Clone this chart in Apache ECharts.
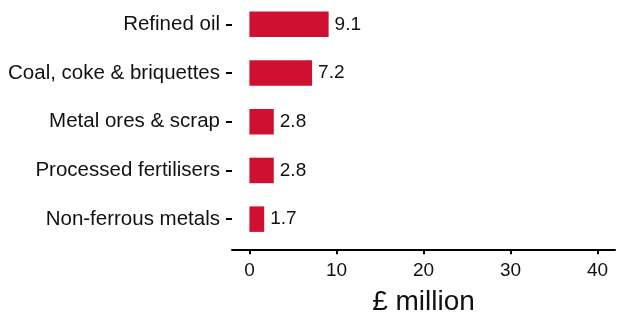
<!DOCTYPE html>
<html>
<head>
<meta charset="utf-8">
<script src="https://cdn.jsdelivr.net/npm/echarts@6/dist/echarts.min.js"></script>
<style>
  html, body { margin: 0; padding: 0; background: #fff; }
  #chart { width: 617px; height: 313px; }
</style>
</head>
<body>
<div id="chart"></div>
<script>
// data
const categories = ['Refined oil', 'Coal, coke & briquettes', 'Metal ores & scrap', 'Processed fertilisers', 'Non-ferrous metals']
const values = [9.1, 7.2, 2.8, 2.8, 1.7]
const xTicks = [0, 10, 20, 30, 40]

const chart = echarts.init(document.getElementById('chart'))
const textColor = '#111'
const font = 'Liberation Sans'

// 第二个 grid 只用来画底部的 x 轴（比绘图区低几个像素）
const option = {
  animation: false,
  grid: [
    { left: 232, right: 2, top: -3.5, height: 247 },
    { left: 232, right: 2, top: 249, height: 1 }
  ],
  xAxis: [
    { gridIndex: 0, type: 'value', min: -2, max: 42, show: false },
    {
      gridIndex: 1,
      type: 'value',
      min: -2,
      max: 42,
      name: '£ million',
      nameLocation: 'middle',
      nameGap: 39,
      nameTextStyle: { fontSize: 28, color: textColor, fontFamily: font },
      splitLine: { show: false },
      axisLine: { show: true, onZero: false, lineStyle: { color: '#000', width: 2 } },
      axisTick: { show: true, length: 5, customValues: xTicks, lineStyle: { color: '#000', width: 2 } },
      axisLabel: { customValues: xTicks, margin: 12, fontSize: 19, color: textColor, fontFamily: font }
    }
  ],
  yAxis: [
    {
      gridIndex: 0,
      type: 'category',
      inverse: true,
      data: categories,
      axisLine: { show: false, onZero: false },
      axisTick: { show: true, length: 6, alignWithLabel: true, lineStyle: { color: '#000', width: 2 } },
      axisLabel: { margin: 12, fontSize: 20.5, color: textColor, fontFamily: font }
    },
    { gridIndex: 1, type: 'value', show: false }
  ],
  series: [{
    type: 'bar',
    xAxisIndex: 0,
    yAxisIndex: 0,
    data: values,
    barWidth: 25.5,
    itemStyle: { color: '#d01030' },
    label: {
      show: true,
      position: 'right',
      distance: 6,
      fontSize: 19,
      color: textColor,
      fontFamily: font,
      formatter: p => p.value.toFixed(1)
    }
  }]
}
chart.setOption(option)
</script>
</body>
</html>
